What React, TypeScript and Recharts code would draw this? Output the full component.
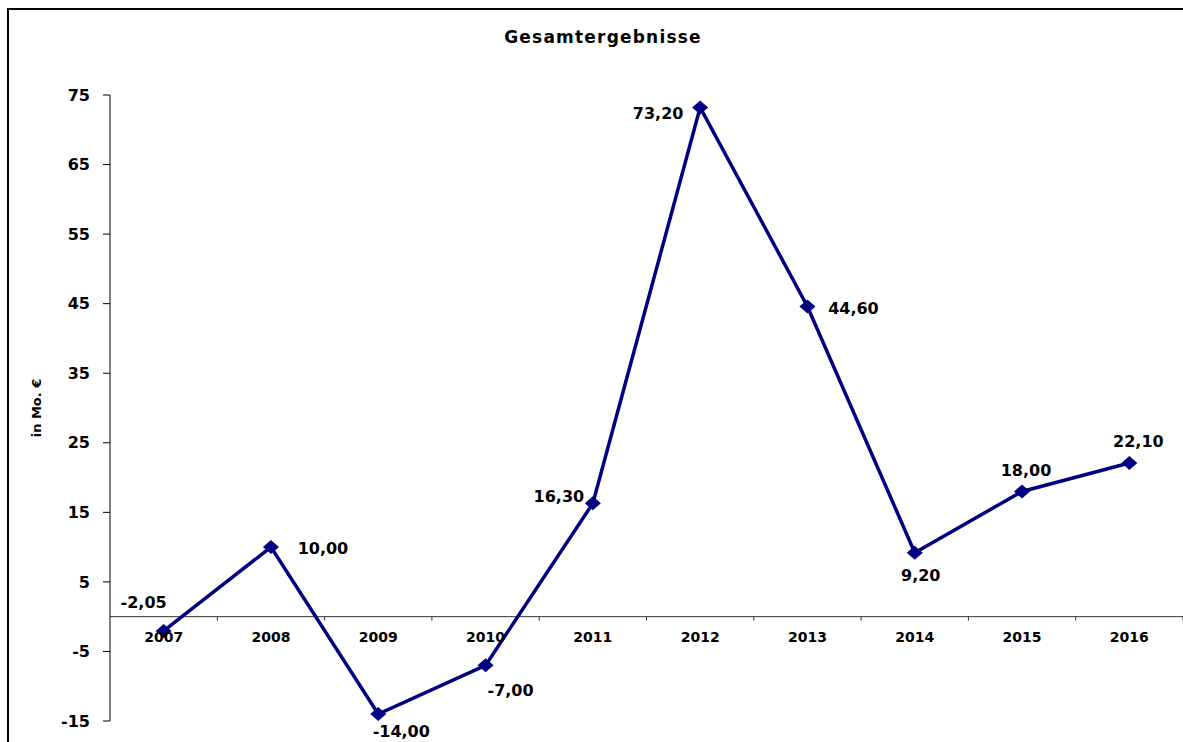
import { LineChart, Line, XAxis, YAxis, ReferenceLine, ReferenceDot, LabelList } from 'recharts'

const years = ['2007', '2008', '2009', '2010', '2011', '2012', '2013', '2014', '2015', '2016']
const results = [-2.05, 10, -14, -7, 16.3, 73.2, 44.6, 9.2, 18, 22.1]
const yTicks = [-15, -5, 5, 15, 25, 35, 45, 55, 65, 75]

const data = years.map((year, i) => ({ year, value: results[i] }))

// where each value label sits relative to its marker (dx, dy)
const labelOffsets = [
  [-20, -28],
  [52, 1],
  [23, 17],
  [25, 25],
  [-34, -7],
  [-42, 6],
  [46, 2],
  [6, 23],
  [4, -21],
  [9, -21],
]

const font = "'DejaVu Sans', Arial, sans-serif"
const navy = '#000080'

const formatValue = (v: number) => v.toFixed(2).replace('.', ',')

function Diamond(props: any) {
  const { cx, cy } = props
  if (cx == null || cy == null) return null
  return (
    <path
      d={`M${cx},${cy - 7}L${cx + 8},${cy}L${cx},${cy + 7}L${cx - 8},${cy}Z`}
      fill={navy}
    />
  )
}

function ValueLabel(props: any) {
  const { x, y, index, value } = props
  const [dx, dy] = labelOffsets[index] || [0, 0]
  return (
    <text
      x={x + dx}
      y={y + dy}
      textAnchor="middle"
      dominantBaseline="central"
      fontFamily={font}
      fontWeight="bold"
      fontSize={16}
      fill="#000"
    >
      {formatValue(value)}
    </text>
  )
}

function ZeroAxis(props: any) {
  const { x1, y1, x2 } = props
  const step = (x2 - x1) / years.length
  return (
    <g>
      <line x1={x1} y1={y1} x2={x2} y2={y1} stroke="#333" strokeWidth={1} />
      {years.map((y, i) => (
        <line
          key={y}
          x1={x1 + step * (i + 1)}
          x2={x1 + step * (i + 1)}
          y1={y1}
          y2={y1 + 4}
          stroke="#333"
          strokeWidth={1}
        />
      ))}
    </g>
  )
}

export default function App() {
  return (
    <div style={{ position: 'fixed', left: 0, top: 0, width: 1183, height: 742, background: '#fff', overflow: 'hidden' }}>
      <svg width={1183} height={742} style={{ position: 'absolute', left: 0, top: 0 }}>
        <path d="M8,742L8,9L1183,9" fill="none" stroke="#000" strokeWidth={2} />
      </svg>
      <div
        style={{
          position: 'absolute',
          left: 0,
          width: 1206,
          top: 29,
          textAlign: 'center',
          fontFamily: font,
          fontWeight: 'bold',
          fontSize: 17,
          lineHeight: '17px',
          letterSpacing: 1.2,
          color: '#000',
        }}
      >
        Gesamtergebnisse
      </div>
      <div style={{ position: 'absolute', left: 0, top: 0 }}>
        <LineChart width={1183} height={742} data={data} margin={{ top: 95, right: 0, bottom: 21, left: 0 }}>
          <XAxis dataKey="year" scale="band" hide />
          <YAxis
            width={110}
            domain={[-15, 75]}
            ticks={yTicks}
            interval={0}
            allowDataOverflow
            tickSize={7}
            tickMargin={13}
            axisLine={{ stroke: '#000' }}
            tickLine={{ stroke: '#000' }}
            tick={{ fill: '#000', fontFamily: font, fontWeight: 'bold', fontSize: 16 }}
            label={{
              value: 'in Mo. €',
              angle: -90,
              position: 'insideLeft',
              offset: 36,
              style: { textAnchor: 'middle', fontFamily: font, fontWeight: 'bold', fontSize: 13, fill: '#000' },
            }}
          />
          <ReferenceLine y={0} shape={<ZeroAxis />} />
          {years.map((year) => (
            <ReferenceDot
              key={year}
              x={year}
              y={0}
              r={0}
              fill="none"
              stroke="none"
              label={{
                value: year,
                position: 'bottom',
                offset: 15,
                fill: '#000',
                fontFamily: font,
                fontWeight: 'bold',
                fontSize: 14,
              }}
            />
          ))}
          <Line
            type="linear"
            dataKey="value"
            stroke={navy}
            strokeWidth={3.5}
            dot={<Diamond />}
            activeDot={false}
            isAnimationActive={false}
          >
            <LabelList dataKey="value" content={<ValueLabel />} />
          </Line>
        </LineChart>
      </div>
    </div>
  )
}
